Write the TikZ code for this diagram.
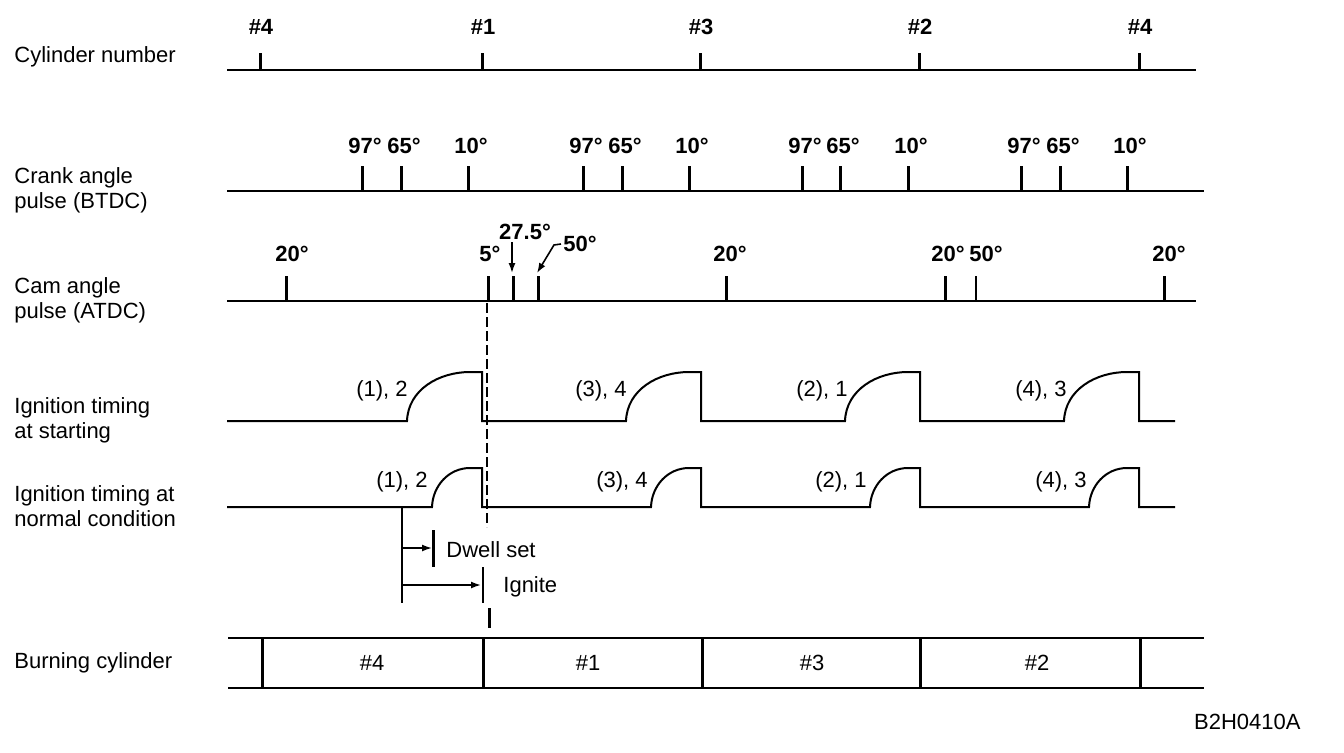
\documentclass[tikz,border=0pt]{standalone}
\usepackage{fontspec}
\setmainfont{Liberation Sans}
\usetikzlibrary{arrows.meta}
\tikzset{
  rowlabel/.style={anchor=west,align=left,inner sep=0pt,font=\fontsize{11}{12.5}\selectfont},
  ticklabel/.style={font=\fontsize{11}{13}\selectfont\bfseries,inner sep=1pt},
  pulselabel/.style={font=\fontsize{11}{13}\selectfont,inner sep=1pt},
  axisline/.style={line width=1pt},
  tickline/.style={line width=1.5pt},
  pointer/.style={line width=0.8pt,-{Latex[length=5pt,width=3.5pt]}}
}
\begin{document}
\begin{tikzpicture}[x=0.5pt,y=-0.5pt]
\useasboundingbox (0,0) rectangle (1344,752);

% row names
\node[rowlabel] (lcyl) at (14,57) {Cylinder number};
\node[rowlabel] (lcrank) at (14,190) {Crank angle\\pulse (BTDC)};
\node[rowlabel] (lcam) at (14,300) {Cam angle\\pulse (ATDC)};
\node[rowlabel] (lstart) at (14,420) {Ignition timing\\at starting};
\node[rowlabel] (lnorm) at (14,506) {Ignition timing at\\normal condition};
\node[rowlabel] (lburn) at (14,663) {Burning cylinder};

% cylinder number
\draw[axisline] (227,70) -- (1196,70);
\foreach \x/\c [count=\i] in {260/4,482/1,700/3,919/2,1139/4}{
  \draw[tickline] (\x,70) -- (\x,53);
  \node[ticklabel] (cyl\i) at (\x+1,27) {\#\c};
}

% crank angle
\draw[axisline] (227,191) -- (1204,191);
\foreach \x/\a [count=\i] in {362/97,401/65,468/10,583/97,622/65,689/10,802/97,840/65,908/10,1021/97,1060/65,1127/10}{
  \draw[tickline] (\x,191) -- (\x,166);
  \node[ticklabel] (crank\i) at (\x+3,146) {\a°};
}

% cam angle
\draw[axisline] (227,301) -- (1196,301);
\foreach \x in {286,488,513,538,726,945,1164}
  \draw[tickline] (\x,301) -- (\x,276);
\draw[line width=0.8pt] (976,301) -- (976,276);
\foreach \x/\a [count=\i] in {292/20,490/5,730/20,948/20,986/50,1169/20}
  \node[ticklabel] (cam\i) at (\x,254) {\a°};
\node[ticklabel] (camb) at (525,232) {27.5°};
\node[ticklabel] (camc) at (580,244) {50°};
\coordinate (tb) at (512,273);
\coordinate (tc) at (537,273);
\draw[pointer] (camb.south -| tb) -- (tb);
\draw[pointer] (camc.west) -- ++(-7,1) -- (tc);

% ignition timing
\draw[line width=0.6pt,dash pattern=on 5pt off 2pt] (487,303) -- (487,527);
\draw[axisline] (227,421) \foreach \d in {482,701,920,1139}{
  -- (\d-75,421) to[out=88,in=180] (\d-12,372) -- (\d,372) -- (\d,421)} -- (1175,421);
\draw[axisline] (227,507) \foreach \d in {482,701,920,1139}{
  -- (\d-50,507) to[out=88,in=180] (\d-12,468) -- (\d,468) -- (\d,507)} -- (1175,507);
\foreach \x/\t [count=\i] in {382/{(1), 2},601/{(3), 4},822/{(2), 1},1041/{(4), 3}}
  \node[pulselabel] (ps\i) at (\x,391) {\t};
\foreach \x/\t [count=\i] in {402/{(1), 2},622/{(3), 4},841/{(2), 1},1061/{(4), 3}}
  \node[pulselabel] (pn\i) at (\x,482) {\t};

% dwell and ignite
\coordinate (dw0) at (402,548);
\coordinate (dw1) at (432,548);
\coordinate (ig0) at (402,585);
\coordinate (ig1) at (481,585);
\draw[axisline] (402,507) -- (402,603);
\draw[pointer] (dw0) -- (dw1);
\draw[pointer] (ig0) -- (ig1);
\draw[tickline] (433,530) -- (433,567);
\draw[axisline] (483,567) -- (483,603);
\draw[tickline] (489,608) -- (489,628);
\node[pulselabel,anchor=west] (dwell) at (444,550) {Dwell set};
\node[pulselabel,anchor=west] (ignite) at (501,587) {Ignite};

% burning cylinder
\draw[axisline] (228,638) -- (1204,638);
\draw[axisline] (228,688) -- (1204,688);
\foreach \x in {262,483,702,920,1140}
  \draw[tickline] (\x,638) -- (\x,688);
\foreach \x/\c [count=\i] in {372/4,588/1,812/3,1037/2}
  \node[pulselabel] (burn\i) at (\x,663) {\#\c};

\node[pulselabel,anchor=east] (code) at (1303,722) {B2H0410A};
\end{tikzpicture}
\end{document}
